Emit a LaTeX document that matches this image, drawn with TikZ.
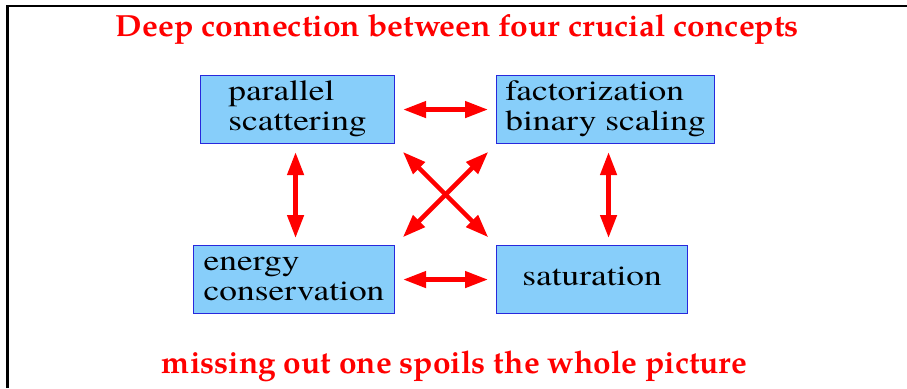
\documentclass[tikz,border=0pt]{standalone}
\usepackage{fontspec}
\setmainfont{TeX Gyre Termes}
\newfontfamily\headfont{TeX Gyre Pagella}
\usetikzlibrary{arrows.meta}
\definecolor{boxfill}{RGB}{135,206,250}
\definecolor{boxline}{RGB}{40,40,220}
\definecolor{alertred}{RGB}{255,0,0}
% two-line label, widened a little
\newcommand\conceptlines[1]{\scalebox{1.22}[1]{\begin{tabular}{@{}l@{}}#1\end{tabular}}}
\begin{document}
\begin{tikzpicture}[x=1pt,y=-1pt,
  concept/.style={draw=boxline, line width=1.1pt, fill=boxfill, anchor=north west,
    inner sep=0pt, font=\rmfamily\fontsize{29}{30}\selectfont},
  biarrow/.style={draw=alertred, line width=4.5pt,
    {Triangle[length=23pt,width=16pt]}-{Triangle[length=23pt,width=16pt]}},
  headline/.style={text=alertred, anchor=base, inner sep=0pt, font=\headfont\bfseries}]
\useasboundingbox (0,0) rectangle (907,388);
% frame along the left and top edges
\draw[line width=2.7pt] (7.5,388) -- (7.5,6) -- (907,6);

% headings
\node[headline] (title) at (457.5,36.7)
  {\resizebox{683pt}{22pt}{Deep connection between four crucial concepts}};
\node[headline] (moral) at (454.5,373)
  {\resizebox{585pt}{22.6pt}{missing out one spoils the whole picture}};

% the four concepts
\node[concept, minimum width=194pt, minimum height=68pt] (ps) at (200,75)
  {\conceptlines{parallel\\scattering}};
\node[concept, minimum width=218pt, minimum height=68pt] (fb) at (496,75)
  {\conceptlines{factorization\\binary scaling}};
\node[concept, minimum width=201pt, minimum height=68pt] (ec) at (193,245)
  {\conceptlines{energy\\conservation}};
\node[concept, minimum width=191pt, minimum height=68pt] (sat) at (496,245)
  {\conceptlines{saturation}};

% every pair is linked both ways
\draw[biarrow, shorten <=8pt, shorten >=8pt] (ps.east) -- (ps.east -| fb.west);
\draw[biarrow, shorten <=8pt, shorten >=8pt] (ec.east) -- (ec.east -| sat.west);
\draw[biarrow, shorten <=8pt, shorten >=7pt] ([xshift=-2pt]ps.south) -- ([xshift=-2pt]ps.south |- ec.north);
\draw[biarrow, shorten <=8pt, shorten >=7pt] ([xshift=3pt]fb.south) -- ([xshift=3pt]fb.south |- sat.north);
\draw[biarrow, shorten <=11pt, shorten >=11pt] (ps.south east) -- (sat.north west);
\draw[biarrow, shorten <=11pt, shorten >=11pt] (fb.south west) -- (ec.north east);
\end{tikzpicture}
\end{document}
